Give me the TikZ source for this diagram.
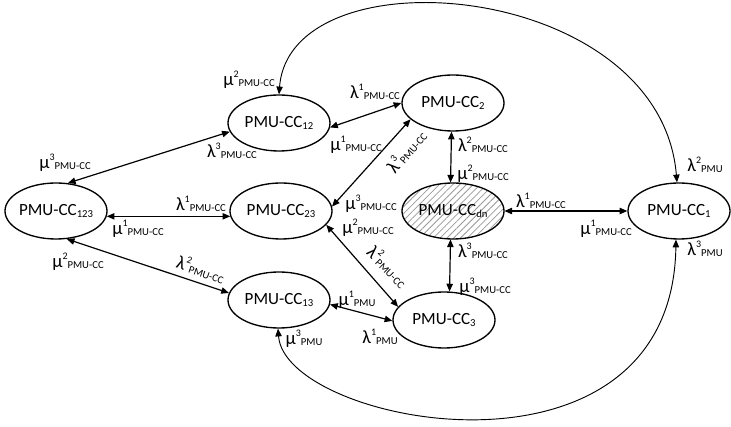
\documentclass[tikz,border=0pt]{standalone}
\usepackage{fontspec}
\setmainfont{Carlito}
\usetikzlibrary{shapes.geometric,arrows.meta,patterns.meta}

% state name: PMU-CC with a small index
\newcommand\ccname[1]{\makebox[0pt]{PMU-CC\raisebox{-1.6pt}{\fontsize{8}{8}\selectfont #1}}}
% transition rate: Greek letter, upper index, lower index
\newcommand\trate[3]{{\fontsize{14}{14}\selectfont #1}\raisebox{6pt}{\fontsize{7.5}{8}\selectfont #2}\raisebox{-0.8pt}{\fontsize{8}{8}\selectfont #3}}

\begin{document}
\begin{tikzpicture}[x=0.75pt,y=-0.75pt,
  state/.style={ellipse, draw, line width=1pt, minimum width=76.5pt,
    minimum height=42pt, inner sep=0pt, font=\fontsize{12.8}{14}\selectfont},
  hatched/.style={pattern={Lines[angle=45,distance=3.6pt,line width=0.6pt]},
    pattern color=black!40},
  lab/.style={inner sep=0pt},
  link/.style={<->, line width=0.9pt},
  longlink/.style={<->, line width=0.7pt},
  >={Triangle[length=5.8pt,width=4.8pt]}]
\useasboundingbox (0,0) rectangle (731,427);

% states
\node[state] (n123) at (56,211) {\ccname{123}};
\node[state] (n12)  at (279,123) {\ccname{12}};
\node[state] (n2)   at (453,103) {\ccname{2}};
\node[state] (n23)  at (281,211) {\ccname{23}};
\node[state,hatched] (ndn) at (453,211) {\ccname{dn}};
\node[state] (n1)   at (679,211) {\ccname{1}};
\node[state] (n13)  at (279,300) {\ccname{13}};
\node[state] (n3)   at (444,320) {\ccname{3}};

% straight transitions
\draw[link] (n123.67)  -- (n12.190);
\draw[link] (n123.-6)  -- (n23.186);
\draw[link] (n123.-69) -- (n13.172);
\draw[link] (n12.-5)   -- (n2.180);
\draw[link] (n23.5)    -- (n2.201);
\draw[link] (n23.-17)  -- (n3.164);
\draw[link] (n13.-5)   -- (n3.181);
\draw[link] (n2.-93)   -- (ndn.95);
\draw[link] (ndn.-95)  -- (n3.79);
\draw[link] (ndn.0)    -- (n1.180);

% long transitions to PMU-CC1
\draw[longlink] (n12.90) .. controls (290,-50) and (660,-20) .. (n1.94);
\draw[longlink] (n13.-92) .. controls (285,425) and (672,500) .. (n1.-96);

% rate labels
\node[lab] (r1a)  at (65,163)  {\trate{μ}{3}{PMU-CC}};
\node[lab] (r1b)  at (232,151) {\trate{λ}{3}{PMU-CC}};
\node[lab] (r2a)  at (201,204) {\trate{λ}{1}{PMU-CC}};
\node[lab] (r2b)  at (138,229) {\trate{μ}{1}{PMU-CC}};
\node[lab] (r3a)  at (78,262)  {\trate{μ}{2}{PMU-CC}};
\node[lab,rotate=-19] (r3b) at (201,269) {\trate{λ}{2}{PMU-CC}};
\node[lab] (r4a)  at (375,92)  {\trate{λ}{1}{PMU-CC}};
\node[lab] (r4b)  at (356,145) {\trate{μ}{1}{PMU-CC}};
\node[lab,rotate=50] (r5a) at (406,151) {\trate{λ}{3}{PMU-CC}};
\node[lab] (r5b)  at (371,204) {\trate{μ}{3}{PMU-CC}};
\node[lab] (r6a)  at (368,228) {\trate{μ}{2}{PMU-CC}};
\node[lab,rotate=-45] (r6b) at (388,266) {\trate{λ}{2}{PMU-CC}};
\node[lab] (r7a)  at (357,300) {\trate{μ}{1}{PMU}};
\node[lab] (r7b)  at (380,337) {\trate{λ}{1}{PMU}};
\node[lab] (r8a)  at (483,145) {\trate{λ}{2}{PMU-CC}};
\node[lab] (r8b)  at (483,174) {\trate{μ}{2}{PMU-CC}};
\node[lab] (r9a)  at (483,251) {\trate{λ}{3}{PMU-CC}};
\node[lab] (r9b)  at (485,287) {\trate{μ}{3}{PMU-CC}};
\node[lab] (r10a) at (541,201) {\trate{λ}{1}{PMU-CC}};
\node[lab] (r10b) at (606,229) {\trate{μ}{1}{PMU-CC}};
\node[lab] (r11a) at (249,80)  {\trate{μ}{2}{PMU-CC}};
\node[lab] (r11b) at (705,165) {\trate{λ}{2}{PMU}};
\node[lab] (r12a) at (304,339) {\trate{μ}{3}{PMU}};
\node[lab] (r12b) at (705,249) {\trate{λ}{3}{PMU}};
\end{tikzpicture}
\end{document}
